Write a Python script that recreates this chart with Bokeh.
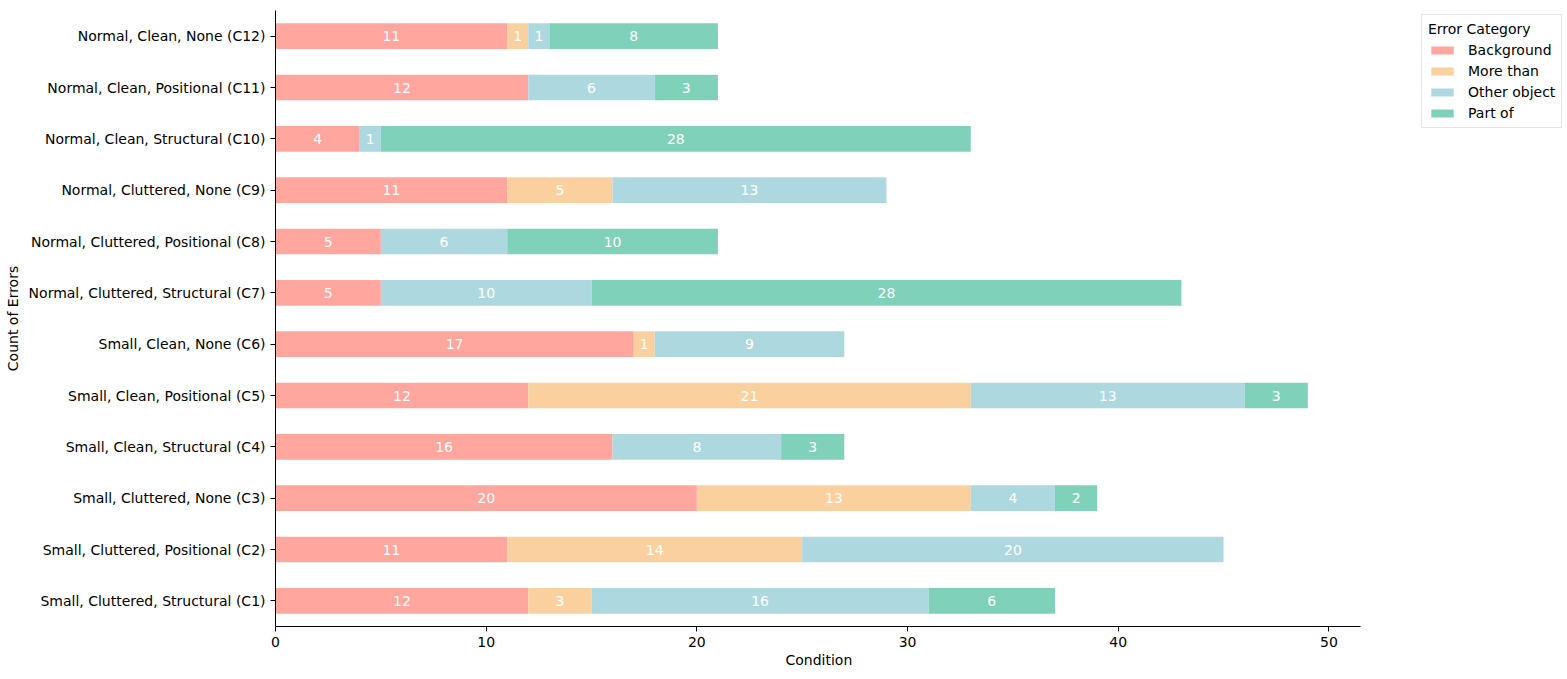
from bokeh.plotting import figure
from bokeh.models import ColumnDataSource, Legend, LegendItem, FactorRange, LabelSet, FixedTicker, Title
from bokeh.embed import file_html
from bokeh.resources import INLINE
from bokeh.core.properties import value

conditions = [
    "Small, Cluttered, Structural (C1)",
    "Small, Cluttered, Positional (C2)",
    "Small, Cluttered, None (C3)",
    "Small, Clean, Structural (C4)",
    "Small, Clean, Positional (C5)",
    "Small, Clean, None (C6)",
    "Normal, Cluttered, Structural (C7)",
    "Normal, Cluttered, Positional (C8)",
    "Normal, Cluttered, None (C9)",
    "Normal, Clean, Structural (C10)",
    "Normal, Clean, Positional (C11)",
    "Normal, Clean, None (C12)",
]
categories = ["Background", "More than", "Other object", "Part of"]
background = [12, 11, 20, 16, 12, 17, 5, 5, 11, 4, 12, 11]
more_than = [3, 14, 13, 0, 21, 1, 0, 0, 5, 0, 0, 1]
other_object = [16, 20, 4, 8, 13, 9, 10, 6, 13, 1, 6, 1]
part_of = [6, 0, 2, 3, 3, 0, 28, 10, 0, 28, 3, 8]
colors = ["#FFA69E", "#FBD09F", "#AED8E0", "#7FD1B9"]
x_ticks = [0, 10, 20, 30, 40, 50]

series = [background, more_than, other_object, part_of]

FONT = "DejaVu Sans"
AXIS_END = 51.5
# frame spans 275..1565 px; the visible axis covers 0..AXIS_END over 1085 px
X_END = AXIS_END * 1290 / 1085

p = figure(width=1567, height=679, output_backend="svg", toolbar_location=None,
           y_range=FactorRange(*conditions), x_range=(0, X_END),
           min_border_left=275, min_border_right=2, min_border_top=10, min_border_bottom=53)
p.outline_line_color = None
p.grid.visible = False

legend_items = []
for i, s in enumerate(series):
    left = [sum(series[j][n] for j in range(i)) for n in range(len(conditions))]
    right = [l + v for l, v in zip(left, s)]
    src = ColumnDataSource(dict(y=conditions, left=left, right=right, v=s,
                                mid=[(l + r) / 2 for l, r in zip(left, right)],
                                txt=[str(v) if v > 0 else "" for v in s]))
    r = p.hbar(y="y", left="left", right="right", height=0.5, source=src,
               fill_color=colors[i], line_color=None)
    legend_items.append(LegendItem(label=categories[i], renderers=[r]))
    labels = LabelSet(x="mid", y="y", text="txt", source=src, text_color="white",
                      text_align="center", text_baseline="middle",
                      text_font=value(FONT), text_font_size="14px")
    p.add_layout(labels)

legend = Legend(items=legend_items, title="Error Category", location=(1146, 498),
                label_text_font=FONT, label_text_font_size="14px", label_text_color="black",
                title_text_font=FONT, title_text_font_size="14px", title_text_font_style="normal",
                title_text_color="black",
                glyph_width=28, glyph_height=10, label_height=14, spacing=5,
                border_line_color="#cccccc", margin=0, padding=6,
                label_standoff=12)
p.add_layout(legend, "center")

for ax in (p.xaxis, p.yaxis):
    ax.major_label_text_font = FONT
    ax.major_label_text_font_size = "14px"
    ax.major_label_text_color = "black"
    ax.axis_label_text_font = FONT
    ax.axis_label_text_font_size = "14px"
    ax.axis_label_text_font_style = "normal"
    ax.axis_label_text_color = "black"
    ax.minor_tick_line_color = None
    ax.major_tick_out = 5
    ax.major_tick_in = 0
    ax.axis_line_color = "black"
    ax.major_tick_line_color = "black"

p.xaxis.ticker = FixedTicker(ticks=x_ticks)
p.xaxis.bounds = (0, AXIS_END)
p.yaxis.axis_label = "Count of Errors"
p.yaxis.major_label_standoff = 5

xlabel = Title(text="Condition", align="left", offset=510, text_font=FONT,
               text_font_size="14px", text_font_style="normal", text_color="black",
               standoff=0)
p.add_layout(xlabel, "below")

open("out.html", "w").write(file_html(p, INLINE))
